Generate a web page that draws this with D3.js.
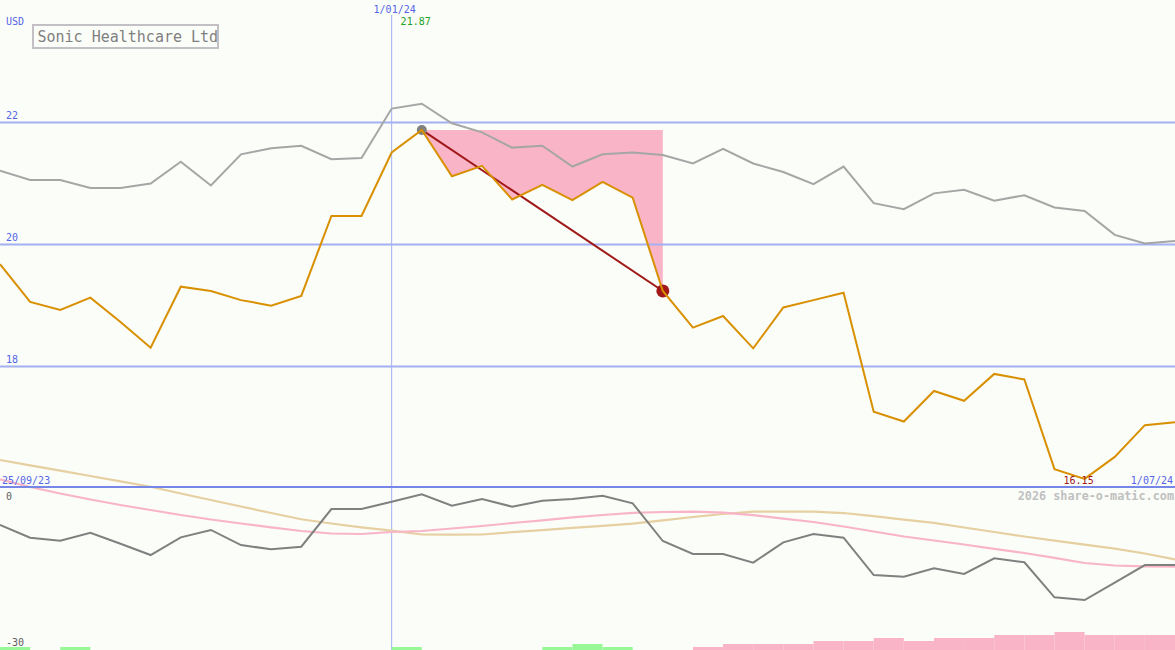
<!DOCTYPE html>
<html>
<head>
<meta charset="utf-8">
<script src="https://cdn.jsdelivr.net/npm/d3@7"></script>
<style>
  html, body { margin: 0; padding: 0; background: #fbfdf8; }
  svg { display: block; }
</style>
</head>
<body>
<svg id="chart" width="1175" height="650"></svg>
<script>
// ---------------- DATA ----------------
const dates = ["2023-10-02","2023-10-09","2023-10-16","2023-10-23","2023-10-30","2023-11-06","2023-11-13","2023-11-20",
  "2023-11-27","2023-12-04","2023-12-11","2023-12-18","2023-12-25","2024-01-01","2024-01-08","2024-01-15",
  "2024-01-22","2024-01-29","2024-02-05","2024-02-12","2024-02-19","2024-02-26","2024-03-04","2024-03-11",
  "2024-03-18","2024-03-25","2024-04-01","2024-04-08","2024-04-15","2024-04-22","2024-04-29","2024-05-06",
  "2024-05-13","2024-05-20","2024-05-27","2024-06-03","2024-06-10","2024-06-17","2024-06-24","2024-07-01"];

// share price (USD)
const price = [19.67,19.05,18.92,19.12,18.72,18.30,19.30,19.23,19.08,18.99,19.15,20.46,20.46,21.50,21.87,21.11,
  21.28,20.73,20.97,20.72,21.02,20.76,19.23,18.63,18.82,18.29,18.96,19.08,19.20,17.25,17.09,17.59,17.43,17.87,
  17.78,16.31,16.15,16.51,17.03,17.08];

// comparison index (grey line)
const benchmark = [21.20,21.05,21.05,20.92,20.92,20.99,21.35,20.96,21.47,21.57,21.61,21.39,21.41,22.22,22.30,21.98,
  21.83,21.58,21.61,21.27,21.47,21.50,21.46,21.32,21.56,21.32,21.18,20.98,21.27,20.67,20.57,20.83,20.89,20.71,
  20.80,20.60,20.54,20.15,20.01,20.05];

// lower panel: relative performance (%)
const relative = [-6.99,-9.33,-9.88,-8.41,-10.44,-12.52,-9.26,-7.91,-10.68,-11.47,-10.99,-4.05,-4.05,-2.71,-1.34,
  -3.44,-2.21,-3.62,-2.52,-2.21,-1.60,-3.01,-9.94,-12.33,-12.33,-13.93,-10.18,-8.65,-9.33,-16.20,-16.51,-14.96,
  -16.01,-13.12,-13.86,-20.30,-20.80,-17.61,-14.36,-14.36];

// lower panel moving averages
const maSlow = [4.97,3.99,3.00,2.02,1.03,0.04,-1.20,-2.39,-3.59,-4.79,-5.93,-6.72,-7.42,-8.04,-8.74,-8.78,-8.74,
  -8.32,-7.95,-7.51,-7.14,-6.75,-6.13,-5.52,-4.97,-4.55,-4.55,-4.55,-4.79,-5.37,-6.02,-6.61,-7.45,-8.28,-9.11,
  -9.87,-10.60,-11.34,-12.24,-13.31];
const maFast = [1.42,0.00,-1.20,-2.30,-3.31,-4.23,-5.15,-5.98,-6.72,-7.42,-8.10,-8.56,-8.65,-8.28,-8.10,-7.64,
  -7.18,-6.63,-6.13,-5.60,-5.15,-4.75,-4.60,-4.55,-4.73,-5.19,-5.83,-6.44,-7.27,-8.19,-9.11,-9.85,-10.58,
  -11.38,-12.15,-13.03,-13.99,-14.45,-14.60,-14.67];

// signal bars (positive = green, negative = pink), one per week interval
const signal = [1,0,1,0,0,0,0,0,0,0,0,0,0,1,0,0,0,0,1,2,1,0,0,-1,-2,-2,-2,-3,-3,-4,-3,-4,-4,-5,-5,-6,-5,-5,-5];

const priceTicks = [18, 20, 22];
const lowerTicks = [0, -30];
const title = "Sonic Healthcare Ltd";
const currency = "USD";
const peakIndex = 14, troughIndex = 22, minIndex = 36;
const markerDate = "2024-01-01";
const startLabel = "25/09/23", markerLabel = "1/01/24", endLabel = "1/07/24";
const credit = "2026 share-o-matic.com";

// ---------------- SCALES ----------------
const W = 1175, H = 650;
const parse = d3.utcParse("%Y-%m-%d");
const dts = dates.map(parse);
const x = d3.scaleUtc().domain([dts[0], dts[dts.length - 1]]).range([0, W]);
const y = d3.scaleLinear().domain([16, 24]).range([488, 0]);
const yLow = d3.scaleLinear().domain([-30, 0]).range([650, 487]);
const barY = d3.scaleLinear().domain([0, 6]).range([650, 632]);

const svg = d3.select("#chart");
const font = "'DejaVu Sans Mono', monospace";

svg.append("rect").attr("width", W).attr("height", H).attr("fill", "#fbfdf8");

// ---------------- DRAWDOWN FILL ----------------
const peakVal = price[peakIndex];
const ddIdx = d3.range(peakIndex, troughIndex + 1);
svg.append("path")
  .datum(ddIdx)
  .attr("d", d3.area().x(i => x(dts[i])).y0(y(peakVal)).y1(i => y(price[i])))
  .attr("fill", "#f9b4c8");

// ---------------- GRID ----------------
const gridAxis = d3.axisRight(y).tickValues(priceTicks).tickSize(W).tickFormat("");
const grid = svg.append("g").call(gridAxis);
grid.select(".domain").remove();
grid.selectAll("line").attr("stroke", "#a3b0f2").attr("stroke-width", 2);

svg.append("line")
  .attr("x1", x(parse(markerDate))).attr("x2", x(parse(markerDate)))
  .attr("y1", 15).attr("y2", H)
  .attr("stroke", "#a3b0f2").attr("stroke-width", 1);

// ---------------- LOWER PANEL ----------------
const lowLine = d3.line().x((d, i) => x(dts[i])).y(d => yLow(d));
svg.append("path").datum(maSlow).attr("d", lowLine)
  .attr("fill", "none").attr("stroke", "#e6cfa0").attr("stroke-width", 2.2);
svg.append("path").datum(maFast).attr("d", lowLine)
  .attr("fill", "none").attr("stroke", "#f8b4c8").attr("stroke-width", 2.2);
svg.append("path").datum(relative).attr("d", lowLine)
  .attr("fill", "none").attr("stroke", "#808080").attr("stroke-width", 2);

// divider
svg.append("line").attr("x1", 0).attr("x2", W).attr("y1", yLow(0)).attr("y2", yLow(0))
  .attr("stroke", "#7787e8").attr("stroke-width", 2.2);

// signal bars
svg.append("g").selectAll("rect")
  .data(signal.map((v, i) => ({ v, i })).filter(d => d.v !== 0))
  .join("rect")
  .attr("x", d => x(dts[d.i]))
  .attr("width", d => x(dts[d.i + 1]) - x(dts[d.i]))
  .attr("y", d => barY(Math.abs(d.v)))
  .attr("height", d => barY(0) - barY(Math.abs(d.v)))
  .attr("fill", d => d.v > 0 ? "#98f898" : "#f9b4c8");

// ---------------- MAIN LINES ----------------
const mainLine = d3.line().x((d, i) => x(dts[i])).y(d => y(d));
svg.append("path").datum(benchmark).attr("d", mainLine)
  .attr("fill", "none").attr("stroke", "#a6a6a6").attr("stroke-width", 2);

svg.append("line")
  .attr("x1", x(dts[peakIndex])).attr("y1", y(price[peakIndex]))
  .attr("x2", x(dts[troughIndex])).attr("y2", y(price[troughIndex]))
  .attr("stroke", "#a01818").attr("stroke-width", 2);

svg.append("circle").attr("cx", x(dts[peakIndex])).attr("cy", y(price[peakIndex])).attr("r", 5)
  .attr("fill", "#808080");
svg.append("circle").attr("cx", x(dts[troughIndex])).attr("cy", y(price[troughIndex])).attr("r", 6.5)
  .attr("fill", "#a01818");

svg.append("path").datum(price).attr("d", mainLine)
  .attr("fill", "none").attr("stroke", "#d89000").attr("stroke-width", 2);

// ---------------- TEXT ----------------
function txt(s, px, py, size, color, anchor, weight) {
  svg.append("text").text(s).attr("x", px).attr("y", py)
    .attr("font-family", font).attr("font-size", size).attr("fill", color)
    .attr("text-anchor", anchor || "start").attr("font-weight", weight || "normal");
}
txt(currency, 6, 25, 10, "#5565e8");
priceTicks.forEach(t => txt(String(t), 6, y(t) - 3, 10, "#5565e8"));
txt(markerLabel, x(parse(markerDate)) + 3, 12.5, 10, "#5565e8", "middle");
txt(String(price[peakIndex].toFixed(2)), x(parse(markerDate)) + 24, 25, 10, "#22a022", "middle");
txt(startLabel, 2, 483.5, 10, "#5565e8");
txt(endLabel, 1173, 483.5, 10, "#5565e8", "end");
txt(price[minIndex].toFixed(2), x(dts[minIndex]) - 6, 483.5, 10, "#a01818", "middle");
txt(credit, 1174, 500, 11.8, "#c0c0c0", "end", "bold");
lowerTicks.forEach(t => txt(String(t), 6, t === 0 ? 499.5 : 646, 10, "#606060"));

// title box
svg.append("rect").attr("x", 33).attr("y", 25).attr("width", 185).attr("height", 23)
  .attr("fill", "#fbfdf8").attr("stroke", "#c2c0c4").attr("stroke-width", 2);
txt(title, 37.5, 41.5, 15, "#808080");
</script>
</body>
</html>
